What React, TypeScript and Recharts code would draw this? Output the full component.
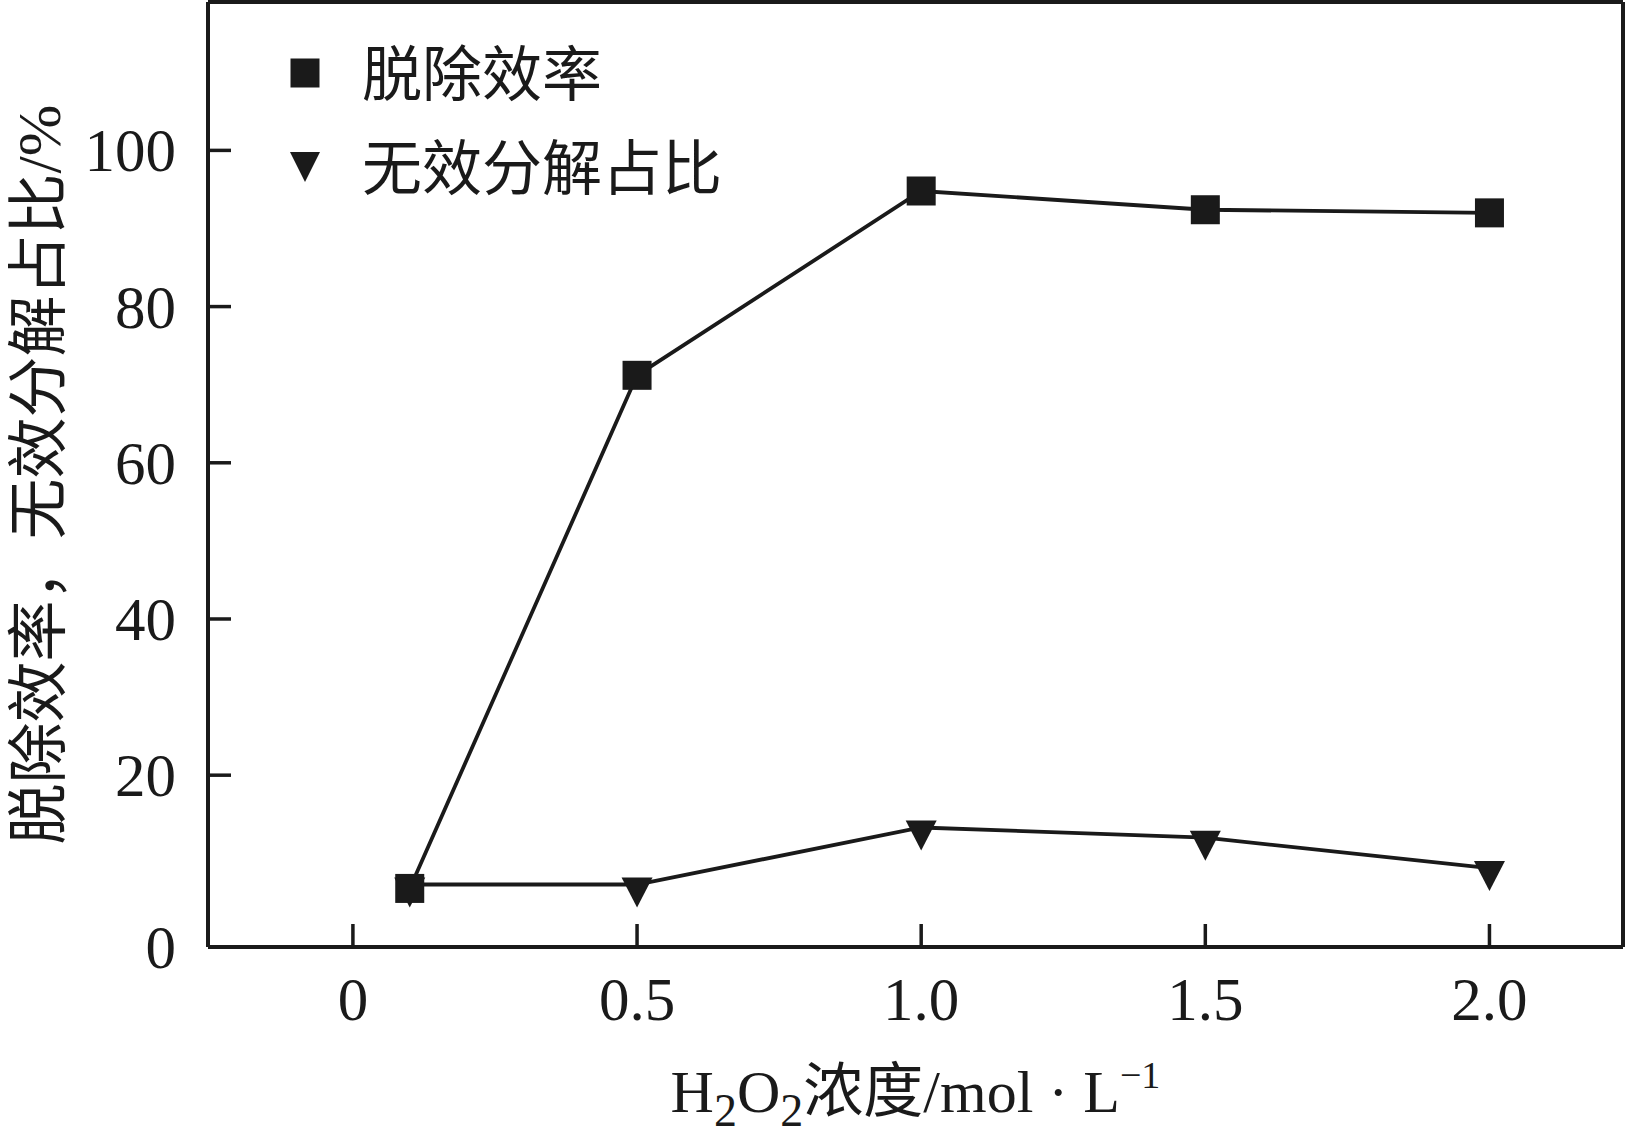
import { LineChart, Line, XAxis, YAxis, ReferenceLine } from "recharts";

const concentrations = [0.1, 0.5, 1.0, 1.5, 2.0];
const removalEfficiency = [5.5, 71.2, 94.8, 92.4, 92.0];
const invalidShare = [6.0, 6.0, 13.3, 12.0, 8.1];

const xTicks = [0, 0.5, 1.0, 1.5, 2.0];
const xTickLabels = ["0", "0.5", "1.0", "1.5", "2.0"];

// bottom of the axis sits a little under zero, the "0" label is drawn there
const Y_MIN = -2;
const Y_MAX = 119;
const X_MIN = -0.255;
const X_MAX = 2.235;
const yTicks = [Y_MIN, 20, 40, 60, 80, 100];
const yTickLabels = ["0", "20", "40", "60", "80", "100"];

const seriesNames = ["脱除效率", "无效分解占比"];

const data = concentrations.map((c, i) => ({
  c,
  removal: removalEfficiency[i],
  invalid: invalidShare[i],
}));

const FONT = "'Liberation Serif', 'Times New Roman', 'Noto Sans CJK SC', serif";
const INK = "#1a1a1a";

function XTick(props: any) {
  const { x, y, payload } = props;
  const idx = xTicks.indexOf(payload.value);
  return (
    <g>
      <line x1={x} y1={y} x2={x} y2={y - 23} stroke={INK} strokeWidth={3.5} />
      <text x={x} y={y + 73} textAnchor="middle" fontSize={61} fontFamily={FONT} fill={INK}>
        {xTickLabels[idx]}
      </text>
    </g>
  );
}

function YTick(props: any) {
  const { x, y, payload } = props;
  const idx = yTicks.indexOf(payload.value);
  return (
    <g>
      {payload.value !== Y_MIN && <line x1={x} y1={y} x2={x + 23} y2={y} stroke={INK} strokeWidth={3.5} />}
      <text x={x - 32} y={y + 21} textAnchor="end" fontSize={61} fontFamily={FONT} fill={INK}>
        {yTickLabels[idx]}
      </text>
    </g>
  );
}

function SquareDot(props: any) {
  const { cx, cy, index } = props;
  return <rect key={"s" + index} x={cx - 14.5} y={cy - 14.5} width={29} height={29} fill={INK} />;
}

function TriangleDot(props: any) {
  const { cx, cy, index } = props;
  return <path key={"t" + index} d={`M${cx - 15.5},${cy - 7}L${cx + 15.5},${cy - 7}L${cx},${cy + 23}Z`} fill={INK} />;
}

function XTitle(props: any) {
  const { x, y, width } = props.viewBox;
  return (
    <text x={x + width / 2} y={y + 165} textAnchor="middle" fontSize={60} fontFamily={FONT} fill={INK}>
      H<tspan fontSize={46} dy={14}>2</tspan>
      <tspan dy={-14}>O</tspan>
      <tspan fontSize={46} dy={14}>2</tspan>
      <tspan dy={-14}>浓度/mol · L</tspan>
      <tspan fontSize={38} dy={-24}>−1</tspan>
    </text>
  );
}

function YTitle(props: any) {
  const { y, height } = props.viewBox;
  const cx = 39;
  const cy = y + height / 2;
  return (
    <text
      x={cx}
      y={cy}
      transform={`rotate(-90, ${cx}, ${cy})`}
      textAnchor="middle"
      dominantBaseline="central"
      fontSize={61}
      fontFamily={FONT}
      fill={INK}
    >
      脱除效率，无效分解占比<tspan fontSize={62}>/%</tspan>
    </text>
  );
}

export default function App() {
  return (
    <div style={{ position: "relative", width: 1626, height: 1148, background: "#fff" }}>
      <style>{"body{margin:0}"}</style>
      <LineChart width={1626} height={1148} data={data} margin={{ top: 2, right: 3, bottom: 0, left: 0 }}>
        <XAxis
          dataKey="c"
          type="number"
          domain={[X_MIN, X_MAX]}
          ticks={xTicks}
          allowDataOverflow
          interval={0}
          height={201}
          axisLine={{ stroke: INK, strokeWidth: 4 }}
          tickLine={false}
          tickSize={0}
          tickMargin={0}
          tick={XTick}
          label={{ content: XTitle }}
        />
        <YAxis
          type="number"
          domain={[Y_MIN, Y_MAX]}
          ticks={yTicks}
          allowDataOverflow
          interval={0}
          width={208}
          axisLine={{ stroke: INK, strokeWidth: 4 }}
          tickLine={false}
          tickSize={0}
          tickMargin={0}
          tick={YTick}
          label={{ content: YTitle }}
        />
        <ReferenceLine y={Y_MAX} stroke={INK} strokeWidth={4} />
        <ReferenceLine x={X_MAX} stroke={INK} strokeWidth={4} />
        <Line
          dataKey="invalid"
          name={seriesNames[1]}
          stroke={INK}
          strokeWidth={3.8}
          dot={TriangleDot}
          activeDot={false}
          isAnimationActive={false}
        />
        <Line
          dataKey="removal"
          name={seriesNames[0]}
          stroke={INK}
          strokeWidth={3.8}
          dot={SquareDot}
          activeDot={false}
          isAnimationActive={false}
        />
      </LineChart>
      <svg width={760} height={220} style={{ position: "absolute", left: 0, top: 0 }}>
        <rect x={290.5} y={58.5} width={29} height={29} fill={INK} />
        <text x={362} y={96} fontSize={60} fontFamily={FONT} fill={INK}>
          {seriesNames[0]}
        </text>
        <path d="M290,152L320,152L305,182Z" fill={INK} />
        <text x={362} y={190} fontSize={60} fontFamily={FONT} fill={INK}>
          {seriesNames[1]}
        </text>
      </svg>
    </div>
  );
}
